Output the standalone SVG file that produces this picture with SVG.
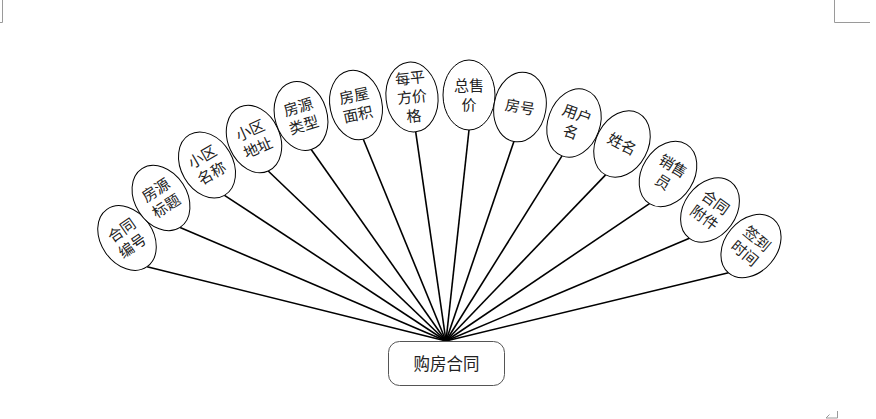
<svg xmlns="http://www.w3.org/2000/svg" width="876" height="419" viewBox="0 0 876 419">
<style>
  .bg { fill: #ffffff; }
  .mark { fill: none; stroke: #9a9a9a; stroke-width: 1; }
  .conn line { stroke: #000000; stroke-width: 1.6; }
  .node ellipse { fill: #ffffff; stroke: #000000; stroke-width: 1; }
  .node text, .main text { font-family: "Noto Sans CJK SC", "Noto Sans", sans-serif; font-size: 15px; fill: #222222; text-anchor: middle; }
  .main text { font-size: 16.5px; }
  .main rect { fill: #ffffff; stroke: #555555; stroke-width: 1; }
</style>
<rect class="bg" x="0" y="0" width="876" height="419"/>
<path class="mark" d="M2.5,0 V22.5 H0"/>
<path class="mark" d="M834.5,0 V22.5 H870"/>
<path class="mark" d="M837.5,411 V418 H826 M826,418 L829.5,414.5"/>

<g id="connectors" class="conn">
  <line x1="446" y1="341" x2="147.1" y2="266.7"/>
  <line x1="446" y1="341" x2="180.1" y2="227.4"/>
  <line x1="446" y1="341" x2="224.5" y2="195.3"/>
  <line x1="446" y1="341" x2="268.2" y2="171"/>
  <line x1="446" y1="341" x2="311.2" y2="149.5"/>
  <line x1="446" y1="341" x2="363.3" y2="139.2"/>
  <line x1="446" y1="341" x2="415.7" y2="131.8"/>
  <line x1="446" y1="341" x2="469" y2="130"/>
  <line x1="446" y1="341" x2="513.9" y2="141.5"/>
  <line x1="446" y1="341" x2="562" y2="155.9"/>
  <line x1="446" y1="341" x2="605.6" y2="174.9"/>
  <line x1="446" y1="341" x2="649.5" y2="203.7"/>
  <line x1="446" y1="341" x2="689.4" y2="238.3"/>
  <line x1="446" y1="341" x2="728.5" y2="272.8"/>
</g>

<g id="main" class="main">
  <rect x="388.5" y="341.5" width="116" height="44" rx="11" ry="11"/>
  <text x="446.5" y="369.5">购房合同</text>
</g>

<g id="n1" class="node" transform="translate(127,238) rotate(-35)">
  <ellipse cx="0" cy="0" rx="26" ry="35"/>
  <text x="0" y="-4">合同</text><text x="0" y="15">编号</text>
</g>
<g id="n2" class="node" transform="translate(161,198) rotate(-33)">
  <ellipse cx="0" cy="0" rx="26" ry="35"/>
  <text x="0" y="-4">房源</text><text x="0" y="15">标题</text>
</g>
<g id="n3" class="node" transform="translate(207,165) rotate(-30)">
  <ellipse cx="0" cy="0" rx="26" ry="35"/>
  <text x="0" y="-4">小区</text><text x="0" y="15">名称</text>
</g>
<g id="n4" class="node" transform="translate(254,139) rotate(-24)">
  <ellipse cx="0" cy="0" rx="26" ry="35"/>
  <text x="0" y="-4">小区</text><text x="0" y="15">地址</text>
</g>
<g id="n5" class="node" transform="translate(301,116) rotate(-17)">
  <ellipse cx="0" cy="0" rx="26" ry="35"/>
  <text x="0" y="-4">房源</text><text x="0" y="15">类型</text>
</g>
<g id="n6" class="node" transform="translate(356,105) rotate(-12)">
  <ellipse cx="0" cy="0" rx="26" ry="35"/>
  <text x="0" y="-4">房屋</text><text x="0" y="15">面积</text>
</g>
<g id="n7" class="node" transform="translate(412,97) rotate(-6)">
  <ellipse cx="0" cy="0" rx="26" ry="35"/>
  <text x="0" y="-13.5">每平</text><text x="0" y="5.5">方价</text><text x="0" y="24.5">格</text>
</g>
<g id="n8" class="node" transform="translate(469,95)">
  <ellipse cx="0" cy="0" rx="26" ry="35"/>
  <text x="0" y="-4">总售</text><text x="0" y="15">价</text>
</g>
<g id="n9" class="node" transform="translate(520,107) rotate(10)">
  <ellipse cx="0" cy="0" rx="26" ry="35"/>
  <text x="0" y="5.5">房号</text>
</g>
<g id="n10" class="node" transform="translate(574,123) rotate(20)">
  <ellipse cx="0" cy="0" rx="26" ry="35"/>
  <text x="0" y="-4">用户</text><text x="0" y="15">名</text>
</g>
<g id="n11" class="node" transform="translate(622,144) rotate(28)">
  <ellipse cx="0" cy="0" rx="26" ry="35"/>
  <text x="0" y="5.5">姓名</text>
</g>
<g id="n12" class="node" transform="translate(668,174) rotate(32)">
  <ellipse cx="0" cy="0" rx="26" ry="35"/>
  <text x="0" y="-4">销售</text><text x="0" y="15">员</text>
</g>
<g id="n13" class="node" transform="translate(710,210) rotate(36)">
  <ellipse cx="0" cy="0" rx="26" ry="35"/>
  <text x="0" y="-4">合同</text><text x="0" y="15">附件</text>
</g>
<g id="n14" class="node" transform="translate(751,246) rotate(40)">
  <ellipse cx="0" cy="0" rx="26" ry="35"/>
  <text x="0" y="-4">签到</text><text x="0" y="15">时间</text>
</g>
</svg>
